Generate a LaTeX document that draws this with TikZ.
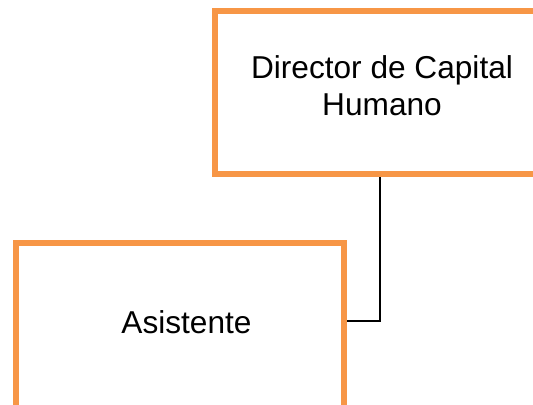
\documentclass[tikz,border=0pt]{standalone}
\usepackage{fontspec}
\setmainfont{Liberation Sans}
\definecolor{naranja}{HTML}{F79646}
\tikzset{
  cargo/.style={draw=naranja, line width=0.120cm, fill=white, inner sep=0pt},
  rotulo/.style={inner sep=0pt, align=center, font=\fontsize{18}{21}\selectfont},
  enlace/.style={draw=black, line width=0.040cm}
}
\begin{document}
\begin{tikzpicture}
                \useasboundingbox (0.000000,0.000000) rectangle (10.660000,8.080000);
                \clip (0.000000,0.000000) rectangle (10.660000,8.080000);
                
                % Drawing box Director
                \node [cargo, minimum width=6.600000cm, minimum height=3.260000cm] (dir) at (7.600000,6.230000) {};%
                \node [rotulo] (dirT) at (7.640000,6.360000) {Director de Capital\\Humano};%
                
                % Drawing box Asistente
                \node [cargo, minimum width=6.560000cm, minimum height=3.820000cm] (asist) at (3.600000,1.310000) {};%
                \node [rotulo] (asistT) at (3.730000,1.640000) {Asistente};%
                
                % Drawing connector dir asist
                \coordinate (codo) at (7.600000,1.660000);%
                \draw [enlace] (dir.south) -- (codo) -- (asist.east |- codo);%
\end{tikzpicture}
\end{document}
